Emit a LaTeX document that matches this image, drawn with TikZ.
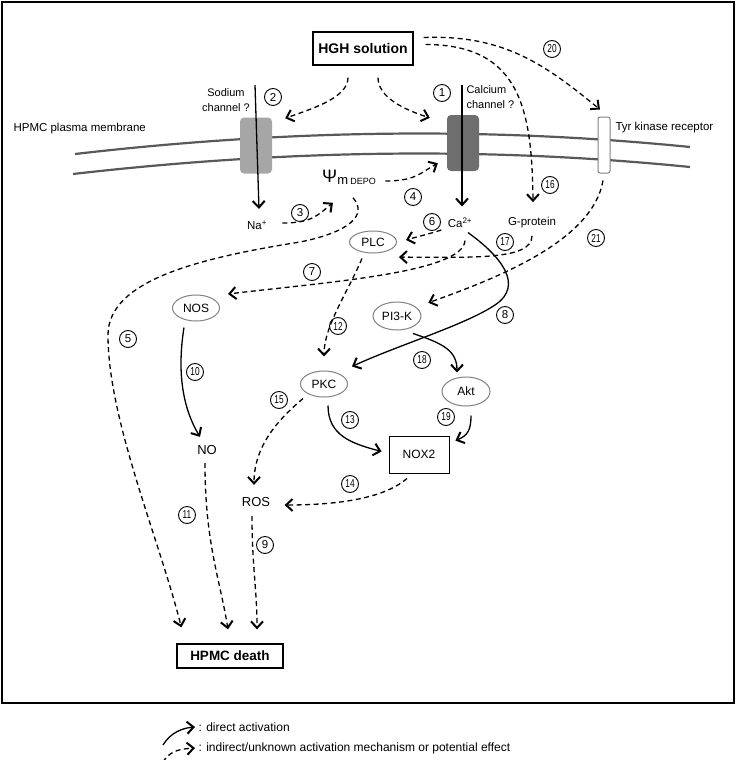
\documentclass[tikz,border=0pt]{standalone}
\usepackage{fontspec}
\setmainfont{Liberation Sans}
\usepackage{graphicx}
\usetikzlibrary{arrows.meta,shapes.geometric}
\definecolor{memgray}{HTML}{595959}
\definecolor{enzgray}{HTML}{808080}
\newcommand{\tw}[1]{\scalebox{0.72}[1]{#1}}

\begin{document}
\begin{tikzpicture}[
  x=1pt, y=-1pt,
  font=\fontsize{11.5}{13}\selectfont,
  membrane/.style={draw=memgray, line width=2.2pt},
  chan/.style={rounded corners=4pt, minimum width=32pt, minimum height=56pt, inner sep=0pt},
  enz/.style={ellipse, draw=enzgray, line width=1pt, minimum width=47pt,
    minimum height=26pt, inner sep=0pt, font=\fontsize{12}{14}\selectfont},
  num/.style={circle, draw, line width=0.9pt, minimum size=17pt, inner sep=0pt,
    font=\fontsize{11.5}{11.5}\selectfont},
  direct/.style={-{Straight Barb[length=6.5pt,width=12pt,line width=2pt]}, line width=1.3pt},
  indirect/.style={direct, dash pattern=on 5pt off 3.5pt}
]
\useasboundingbox (0,0) rectangle (737,760);
\draw[line width=1.8pt] (2,2) rectangle (734,703);

% plasma membrane
\draw[membrane] (75,154) .. controls (300,128) and (500,128) .. (690,147);
\draw[membrane] (73,174) .. controls (300,148) and (500,148) .. (690,167);
\node[anchor=west] (memlbl) at (10,129) {HPMC plasma membrane};

\node[chan, fill=black!35] (nach) at (256,145.5) {};
\node[chan, fill=black!57] (cach) at (463,143) {};
\node[draw=enzgray, fill=white, line width=1pt, rounded corners=2pt, minimum width=12pt,
  minimum height=56pt, inner sep=0pt] (tyr) at (604,145) {};
\node[align=center, font=\fontsize{11}{14.5}\selectfont] (nalbl) at (226,100) {Sodium\\channel ?};
\node[align=left, anchor=west, font=\fontsize{11}{14.5}\selectfont] (calbl) at (463,97) {Calcium\\channel ?};
\node[anchor=west] (tyrlbl) at (612,128) {Tyr kinase receptor};

% species
\node[draw, line width=1.2pt, minimum width=100pt, minimum height=33pt,
  font=\bfseries\fontsize{14}{16}\selectfont] (hgh) at (363,48.5) {HGH solution};
\node (na) at (257,225) {Na\textsuperscript{+}};
\node (psi) at (349,177) {{\fontsize{18}{18}\selectfont Ψ}\raisebox{-2pt}{\fontsize{13}{13}\selectfont m\,{\fontsize{9}{9}\selectfont DEPO}}};
\node (ca) at (460,223) {Ca\textsuperscript{2+}};
\node (gp) at (532,223) {G-protein};
\node[enz, minimum height=22pt] (plc) at (373,242) {PLC};
\node[enz] (nos) at (196,308) {NOS};
\node[enz, minimum width=48pt, minimum height=28pt] (pi3k) at (397,316) {PI3-K};
\node[enz] (pkc) at (324,384) {PKC};
\node[enz, minimum width=48pt, minimum height=29pt] (akt) at (466,391.5) {Akt};
\node[draw, line width=0.8pt, minimum width=60pt, minimum height=37pt,
  font=\fontsize{12}{14}\selectfont] (nox) at (419,454.5) {NOX2};
\node[font=\fontsize{13}{15}\selectfont] (no) at (207,450) {NO};
\node[font=\fontsize{13}{15}\selectfont] (ros) at (256,502) {ROS};
\node[draw, line width=1.3pt, minimum width=106pt, minimum height=24pt,
  font=\bfseries\fontsize{13.5}{15}\selectfont] (death) at (230,656) {HPMC death};

\coordinate (naTop) at (255,85);
\coordinate (caTop) at (462,85);

% connectors
\draw[indirect] ([shift={(-15,12)}]hgh.south) .. controls +(0,20) and +(28,-10) .. ([shift={(13,1)}]nach.north east);
\draw[indirect] ([shift={(15,12)}]hgh.south) .. controls +(0,20) and +(-25,-8) .. ([shift={(-17,3)}]cach.north west);
\draw[indirect] ([shift={(10,-11)}]hgh.east) .. controls +(80,-3) and +(-55,-45) .. ([shift={(-4,-7)}]tyr.north);
\draw[indirect] ([shift={(12,-4)}]hgh.east) .. controls +(95,0) and +(-1,-92) .. ([shift={(1,-12)}]gp.north);
\draw[direct] (naTop) -- ([shift={(2,-8)}]na.north);
\draw[direct] (caTop) -- ([shift={(2,-8)}]ca.north);
\draw[indirect] ([shift={(12,-2)}]na.east) .. controls +(30,0) and +(-15,12) .. ([shift={(-16,15)}]psi.south);
\draw[indirect] ([shift={(6,4)}]psi.east) .. controls +(30,0) and +(-18,10) .. ([shift={(-9,-8)}]cach.south west);
\draw[indirect] ([shift={(4,10)}]psi.south) .. controls +(15,17) and +(50,-10) .. (300,242)
  .. controls +(-100,16) and +(0,-55) .. (108,335)
  .. controls +(0,85) and +(-22,-88) .. ([shift={(5,-16)}]death.north west);
\draw[indirect] ([shift={(-3,7)}]ca.west) .. controls +(-12,4) and +(10,-3) .. ([shift={(9,-2)}]plc.east);
\draw[indirect] ([shift={(5,9)}]ca.south) .. controls +(-2,32) and +(100,-12) .. ([shift={(8,-14)}]nos.east);
\draw[indirect] ([shift={(0,4)}]gp.south) .. controls +(0,25) and +(70,0) .. ([shift={(9,7)}]plc.south east);
\draw[indirect] ([shift={(-1,7)}]tyr.south) .. controls +(-10,60) and +(70,-25) .. ([shift={(14,-3)}]pi3k.north east);
\draw[direct] ([shift={(8,1)}]ca.south) .. controls +(32,23) and +(30,-20) .. (495,305)
  .. controls +(-30,20) and +(48,-22) .. ([shift={(11,-8)}]pkc.north east);
\draw[indirect] ([shift={(-11,5)}]plc.south) .. controls +(-15,35) and +(0,-30) .. ([shift={(0,-14)}]pkc.north);
\draw[direct] ([shift={(16,3)}]pi3k.south) .. controls +(30,10) and +(0,-22) .. ([shift={(-9,-4)}]akt.north);
\draw[direct] ([shift={(-12,6)}]nos.south) .. controls +(-8,50) and +(-15,-25) .. ([shift={(-7,-5)}]no.north);
\draw[direct] ([shift={(4,8)}]pkc.south) .. controls +(0,30) and +(-30,-8) .. ([shift={(-7,-3)}]nox.west);
\draw[direct] ([shift={(5,9)}]akt.south) .. controls +(0,15) and +(12,-5) .. ([shift={(6,5)}]nox.north east);
\draw[indirect] ([shift={(-4,5)}]pkc.south west) .. controls +(-30,25) and +(0,-35) .. ([shift={(-2,-9)}]ros.north);
\draw[indirect] ([shift={(-12,5)}]nox.south) .. controls +(-25,22) and +(45,0) .. ([shift={(11,3)}]ros.east);
\draw[indirect] ([shift={(-2,5)}]no.south) .. controls +(0,80) and +(-8,-50) .. ([shift={(-2,-14)}]death.north);
\draw[indirect] ([shift={(-4,6)}]ros.south) .. controls +(0,50) and +(0,-40) .. ([shift={(27,-14)}]death.north);

% step numbers
\node[num] (n1) at (442,93) {1};
\node[num] (n2) at (273,97) {2};
\node[num] (n3) at (300,213) {3};
\node[num] (n4) at (413,197) {4};
\node[num] (n5) at (128,339) {5};
\node[num] (n6) at (432,222) {6};
\node[num] (n7) at (312,272) {7};
\node[num] (n8) at (505,315) {8};
\node[num] (n9) at (265,545) {9};
\node[num] (n10) at (195,372) {\tw{10}};
\node[num] (n11) at (187,515) {\tw{11}};
\node[num] (n12) at (338,326) {\tw{12}};
\node[num] (n13) at (350,420) {\tw{13}};
\node[num] (n14) at (350,484) {\tw{14}};
\node[num] (n15) at (279,400) {\tw{15}};
\node[num] (n16) at (550,185) {\tw{16}};
\node[num] (n17) at (505,242) {\tw{17}};
\node[num] (n18) at (422,360) {\tw{18}};
\node[num] (n19) at (446,417) {\tw{19}};
\node[num] (n20) at (552,49) {\tw{20}};
\node[num] (n21) at (596,238) {\tw{21}};

% legend
\node[anchor=west, font=\fontsize{12}{14}\selectfont] (lgd) at (195,727) {: direct activation};
\node[anchor=west, font=\fontsize{12}{14}\selectfont] (lgi) at (195,748) {: indirect/unknown activation mechanism or potential effect};
\coordinate (lgd0) at (163,745);
\coordinate (lgi0) at (163,762);
\draw[direct] (lgd0) .. controls +(8,-13) and +(-12,1) .. (lgd.west);
\draw[indirect] (lgi0) .. controls +(8,-13) and +(-12,1) .. (lgi.west);
\end{tikzpicture}
\end{document}
